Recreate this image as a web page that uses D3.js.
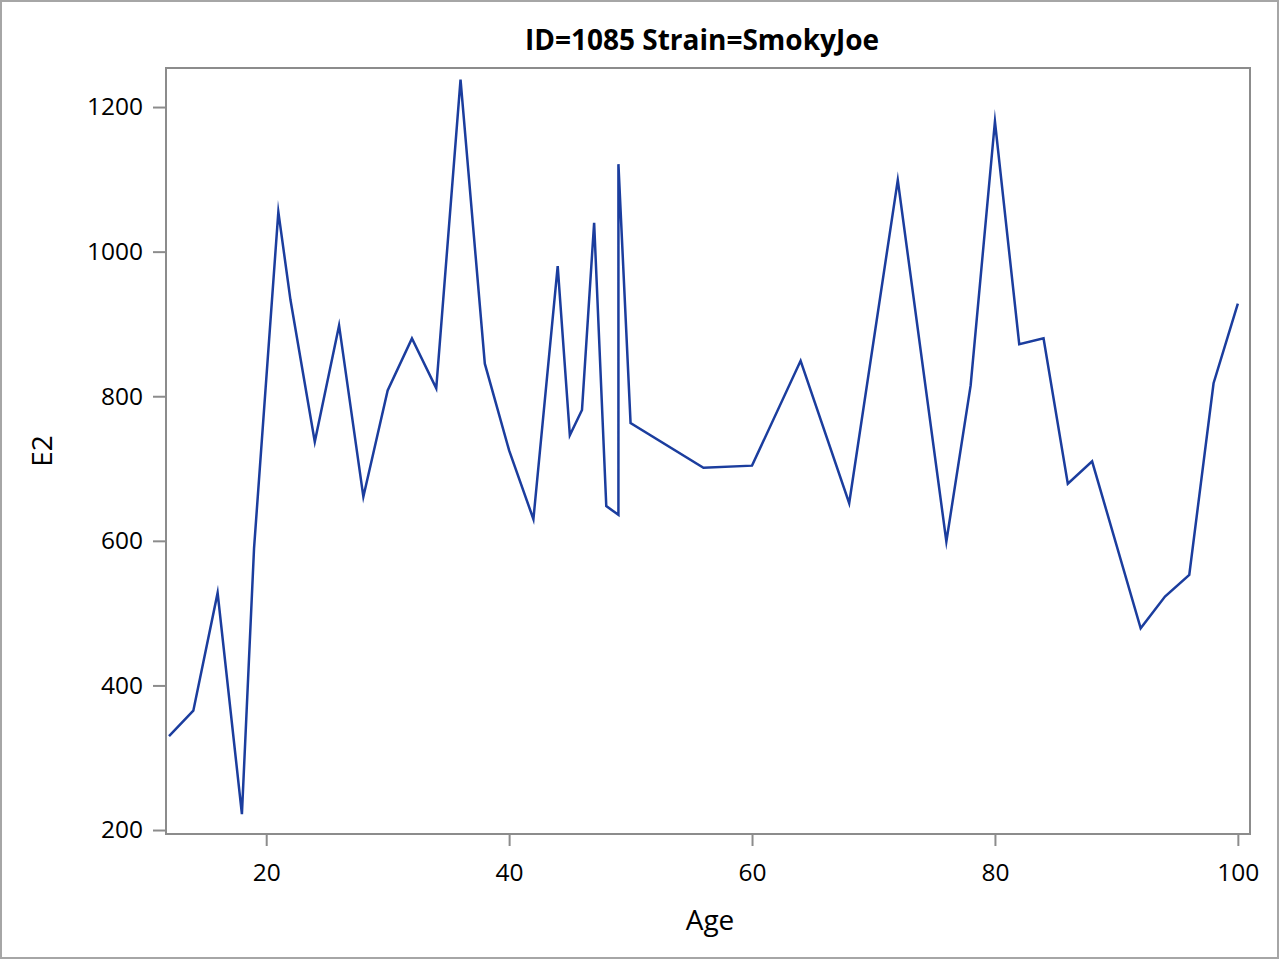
<!DOCTYPE html>
<html>
<head>
<meta charset="utf-8">
<script src="https://cdn.jsdelivr.net/npm/d3@7"></script>
<style>
  html, body { margin: 0; padding: 0; background: #fff; }
  svg { display: block; }
</style>
</head>
<body>
<script>
const titleText = "ID=1085 Strain=SmokyJoe";
const xLabel = "Age";
const yLabel = "E2";
const ages = [12,14,16,18,19,21,22,24,26,28,30,32,34,36,38,40,42,44,45,46,47,48,49,49,50,56,60,64,68,72,76,78,80,82,84,86,88,92,94,96,98,100];
const e2 = [330,365,528,222,590,1055,933,737,898,661,808,880,811,1238,845,725,630,980,746,781,1040,648,636,1121,763,701,704,849,652,1099,599,815,1180,872,880,679,710,479,523,553,818,928];
const xTicks = [20,40,60,80,100];
const yTicks = [200,400,600,800,1000,1200];
const xDomain = [11.75, 101];
const yDomain = [194.5, 1254];

const W = 1279, H = 959;
const m = {left: 166, right: 1250, top: 68, bottom: 834};
const font = "'Open Sans', 'Noto Sans', sans-serif";
const axisColor = "#8c8c8c";

const svg = d3.select("body").append("svg").attr("width", W).attr("height", H);

// outer border
svg.append("rect").attr("x", 1).attr("y", 1).attr("width", W - 2).attr("height", H - 2)
  .attr("fill", "#fff").attr("stroke", "#a6a6a6").attr("stroke-width", 2);

const x = d3.scaleLinear().domain(xDomain).range([m.left, m.right]);
const y = d3.scaleLinear().domain(yDomain).range([m.bottom, m.top]);

// plot frame
svg.append("rect").attr("x", m.left).attr("y", m.top)
  .attr("width", m.right - m.left).attr("height", m.bottom - m.top)
  .attr("fill", "none").attr("stroke", axisColor).attr("stroke-width", 2);

// x axis
const gx = svg.append("g").attr("transform", `translate(0,${m.bottom})`)
  .call(d3.axisBottom(x).tickValues(xTicks).tickSize(12).tickPadding(18).tickFormat(d3.format("d")));
gx.select(".domain").remove();
gx.selectAll(".tick line").attr("stroke", axisColor).attr("stroke-width", 2);
gx.selectAll(".tick text").attr("font-family", font).attr("font-size", 24.5).attr("fill", "#000");

// y axis
const gy = svg.append("g").attr("transform", `translate(${m.left},0)`)
  .call(d3.axisLeft(y).tickValues(yTicks).tickSize(13).tickPadding(10).tickFormat(d3.format("d")));
gy.select(".domain").remove();
gy.selectAll(".tick line").attr("stroke", axisColor).attr("stroke-width", 2);
gy.selectAll(".tick text").attr("font-family", font).attr("font-size", 24.5).attr("fill", "#000");

// line
const data = ages.map((a, i) => [a, e2[i]]);
svg.append("path").datum(data)
  .attr("fill", "none").attr("stroke", "#1b3d9e").attr("stroke-width", 2.5)
  .attr("stroke-linejoin", "miter").attr("stroke-miterlimit", 10)
  .attr("d", d3.line().x(d => x(d[0])).y(d => y(d[1])));

// title
svg.append("text").attr("x", (m.left + m.right) / 2 - 6).attr("y", 50)
  .attr("text-anchor", "middle").attr("font-family", font).attr("font-weight", "bold")
  .attr("font-size", 28).attr("fill", "#000").text(titleText);

// axis labels
svg.append("text").attr("x", (m.left + m.right) / 2 + 2).attr("y", 930)
  .attr("text-anchor", "middle").attr("font-family", font)
  .attr("font-size", 28).attr("fill", "#000").text(xLabel);

svg.append("text").attr("transform", `translate(52,${(m.top + m.bottom) / 2}) rotate(-90)`)
  .attr("text-anchor", "middle").attr("font-family", font)
  .attr("font-size", 28).attr("fill", "#000").text(yLabel);
</script>
</body>
</html>
